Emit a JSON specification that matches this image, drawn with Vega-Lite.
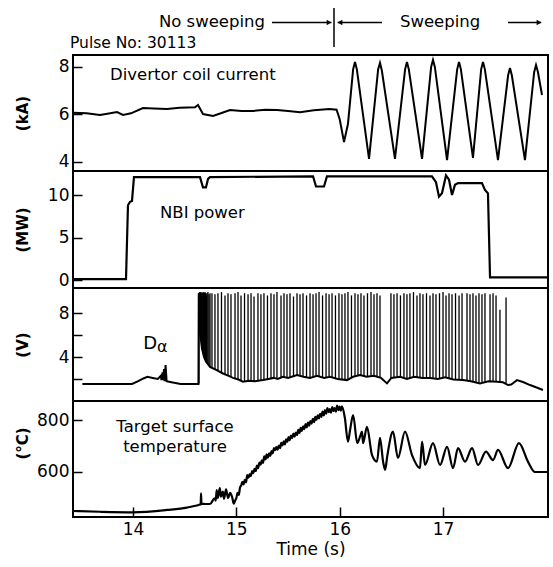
{
  "$schema": "https://vega.github.io/schema/vega-lite/v6.json",
  "background": "white",
  "padding": {"left": 13, "top": 6, "right": 5, "bottom": 5},
  "spacing": 0,
  "bounds": "flush",
  "config": {
    "font": "DejaVu Sans",
    "view": {"stroke": "black", "strokeWidth": 2},
    "axis": {
      "domain": false,
      "grid": false,
      "tickColor": "black",
      "tickWidth": 1.5,
      "labelColor": "black",
      "labelFont": "DejaVu Sans",
      "labelFontSize": 17,
      "labelOverlap": false,
      "format": "d",
      "titleColor": "black",
      "titleFont": "DejaVu Sans",
      "titleFontSize": 17,
      "titleFontWeight": "normal"
    },
    "line": {"color": "black", "strokeWidth": 2},
    "text": {"color": "black", "fontSize": 16.5}
  },
  "datasets": {
    "coil": [
      {"t": 13.419, "v": 6.07}, {"t": 13.55, "v": 6.05}, {"t": 13.68, "v": 5.98}, {"t": 13.78, "v": 6.05},
      {"t": 13.845, "v": 6.1}, {"t": 13.903, "v": 5.98}, {"t": 13.98, "v": 6.05}, {"t": 14.096, "v": 6.27},
      {"t": 14.2, "v": 6.25}, {"t": 14.329, "v": 6.23}, {"t": 14.45, "v": 6.28}, {"t": 14.6, "v": 6.3},
      {"t": 14.629, "v": 6.4}, {"t": 14.677, "v": 6.02}, {"t": 14.774, "v": 5.94}, {"t": 14.85, "v": 6.05},
      {"t": 14.938, "v": 6.19}, {"t": 15.05, "v": 6.15}, {"t": 15.161, "v": 6.15}, {"t": 15.28, "v": 6.2},
      {"t": 15.393, "v": 6.19}, {"t": 15.5, "v": 6.15}, {"t": 15.616, "v": 6.1}, {"t": 15.75, "v": 6.18},
      {"t": 15.9, "v": 6.23}, {"t": 15.97, "v": 6.2}, {"t": 16.0, "v": 5.8}, {"t": 16.042, "v": 4.84},
      {"t": 16.08, "v": 5.6}, {"t": 16.13, "v": 7.9}, {"t": 16.148, "v": 8.21}, {"t": 16.166, "v": 7.9},
      {"t": 16.284, "v": 4.13}, {"t": 16.372, "v": 7.9}, {"t": 16.39, "v": 8.17}, {"t": 16.408, "v": 7.85},
      {"t": 16.535, "v": 4.13}, {"t": 16.633, "v": 7.9}, {"t": 16.651, "v": 8.21}, {"t": 16.669, "v": 7.9},
      {"t": 16.797, "v": 4.13}, {"t": 16.885, "v": 8.0}, {"t": 16.903, "v": 8.3}, {"t": 16.921, "v": 8.0},
      {"t": 17.039, "v": 4.08}, {"t": 17.137, "v": 7.9}, {"t": 17.155, "v": 8.21}, {"t": 17.173, "v": 7.9},
      {"t": 17.29, "v": 4.17}, {"t": 17.369, "v": 7.9}, {"t": 17.387, "v": 8.21}, {"t": 17.405, "v": 7.9},
      {"t": 17.532, "v": 4.08}, {"t": 17.63, "v": 7.65}, {"t": 17.648, "v": 7.96}, {"t": 17.666, "v": 7.65},
      {"t": 17.793, "v": 4.08}, {"t": 17.882, "v": 7.78}, {"t": 17.9, "v": 8.08}, {"t": 17.918, "v": 7.8},
      {"t": 17.958, "v": 6.82}
    ],
    "nbi": [
      {"t": 13.419, "v": 0.1}, {"t": 13.932, "v": 0.1}, {"t": 13.951, "v": 8.8}, {"t": 13.971, "v": 9.2},
      {"t": 13.99, "v": 9.3}, {"t": 14.009, "v": 12.1}, {"t": 14.648, "v": 12.1}, {"t": 14.677, "v": 10.9},
      {"t": 14.706, "v": 10.9}, {"t": 14.726, "v": 11.9}, {"t": 14.745, "v": 12.1}, {"t": 15.742, "v": 12.2},
      {"t": 15.771, "v": 11.0}, {"t": 15.848, "v": 11.0}, {"t": 15.877, "v": 12.2}, {"t": 16.893, "v": 12.2},
      {"t": 16.932, "v": 11.5}, {"t": 16.961, "v": 9.8}, {"t": 16.99, "v": 10.2}, {"t": 17.029, "v": 12.3},
      {"t": 17.058, "v": 11.8}, {"t": 17.087, "v": 10.0}, {"t": 17.116, "v": 11.2}, {"t": 17.145, "v": 11.4},
      {"t": 17.377, "v": 11.4}, {"t": 17.406, "v": 10.6}, {"t": 17.435, "v": 10.2}, {"t": 17.455, "v": 0.3},
      {"t": 18.016, "v": 0.3}
    ],
    "dalpha": [
      {"t": 13.51, "v": 1.55}, {"t": 13.99, "v": 1.55}, {"t": 14.05, "v": 1.8}, {"t": 14.1, "v": 2.05},
      {"t": 14.14, "v": 2.2}, {"t": 14.19, "v": 2.1}, {"t": 14.24, "v": 2.0}, {"t": 14.27, "v": 2.3},
      {"t": 14.275, "v": 1.9}, {"t": 14.285, "v": 2.6}, {"t": 14.29, "v": 1.9}, {"t": 14.3, "v": 2.9},
      {"t": 14.305, "v": 1.8}, {"t": 14.315, "v": 3.27}, {"t": 14.325, "v": 1.8}, {"t": 14.36, "v": 1.73},
      {"t": 14.46, "v": 1.55}, {"t": 14.633, "v": 1.55}, {"t": 14.636, "v": 9.8}, {"t": 14.648, "v": 7.0},
      {"t": 14.658, "v": 5.5}, {"t": 14.667, "v": 4.8}, {"t": 14.687, "v": 4.0}, {"t": 14.706, "v": 3.6},
      {"t": 14.745, "v": 3.1}, {"t": 14.8, "v": 2.85}, {"t": 14.871, "v": 2.5}, {"t": 14.92, "v": 2.3},
      {"t": 14.967, "v": 2.1}, {"t": 15.02, "v": 1.95}, {"t": 15.064, "v": 1.76}, {"t": 15.12, "v": 1.85},
      {"t": 15.18, "v": 1.8}, {"t": 15.258, "v": 1.9}, {"t": 15.31, "v": 2.0}, {"t": 15.36, "v": 2.1},
      {"t": 15.4, "v": 2.0}, {"t": 15.451, "v": 2.2}, {"t": 15.5, "v": 2.1}, {"t": 15.587, "v": 2.36},
      {"t": 15.65, "v": 2.2}, {"t": 15.713, "v": 2.1}, {"t": 15.78, "v": 2.3}, {"t": 15.85, "v": 2.1},
      {"t": 15.906, "v": 2.2}, {"t": 15.98, "v": 2.0}, {"t": 16.071, "v": 1.9}, {"t": 16.13, "v": 2.2},
      {"t": 16.197, "v": 2.36}, {"t": 16.26, "v": 2.2}, {"t": 16.33, "v": 2.3}, {"t": 16.4, "v": 2.1},
      {"t": 16.458, "v": 1.6}, {"t": 16.5, "v": 2.1}, {"t": 16.584, "v": 2.2}, {"t": 16.65, "v": 2.0},
      {"t": 16.72, "v": 2.2}, {"t": 16.8, "v": 2.1}, {"t": 16.874, "v": 2.1}, {"t": 16.95, "v": 2.0},
      {"t": 17.02, "v": 2.15}, {"t": 17.1, "v": 1.95}, {"t": 17.193, "v": 1.9}, {"t": 17.27, "v": 1.8},
      {"t": 17.358, "v": 1.6}, {"t": 17.44, "v": 1.8}, {"t": 17.522, "v": 1.75}, {"t": 17.58, "v": 1.7},
      {"t": 17.629, "v": 1.45}, {"t": 17.66, "v": 1.5}, {"t": 17.716, "v": 1.9}, {"t": 17.78, "v": 1.7},
      {"t": 17.842, "v": 1.45}, {"t": 17.9, "v": 1.25}, {"t": 17.967, "v": 1.0}
    ],
    "spikes": [
      {"t": 14.638, "lo": 1.6, "hi": 9.8}, {"t": 14.643, "lo": 8.0, "hi": 9.9}, {"t": 14.648, "lo": 6.8, "hi": 9.8},
      {"t": 14.653, "lo": 6.0, "hi": 9.9}, {"t": 14.658, "lo": 5.5, "hi": 9.8}, {"t": 14.663, "lo": 5.1, "hi": 9.7},
      {"t": 14.667, "lo": 4.8, "hi": 9.9}, {"t": 14.672, "lo": 4.6, "hi": 9.8}, {"t": 14.677, "lo": 4.4, "hi": 9.8},
      {"t": 14.682, "lo": 4.2, "hi": 9.9}, {"t": 14.687, "lo": 4.0, "hi": 9.7}, {"t": 14.692, "lo": 3.9, "hi": 9.8},
      {"t": 14.696, "lo": 3.8, "hi": 9.9}, {"t": 14.701, "lo": 3.7, "hi": 9.8}, {"t": 14.706, "lo": 3.6, "hi": 9.8},
      {"t": 14.711, "lo": 3.5, "hi": 9.6}, {"t": 14.716, "lo": 3.4, "hi": 9.8}, {"t": 14.725, "lo": 3.3, "hi": 9.9},
      {"t": 14.735, "lo": 3.2, "hi": 9.7}, {"t": 14.745, "lo": 3.1, "hi": 9.8}, {"t": 14.764, "lo": 3.0, "hi": 9.8},
      {"t": 14.793, "lo": 2.9, "hi": 9.7}, {"t": 14.822, "lo": 2.75, "hi": 9.8}, {"t": 14.856, "lo": 2.6, "hi": 9.9},
      {"t": 14.89, "lo": 2.4, "hi": 9.6}, {"t": 14.919, "lo": 2.3, "hi": 9.8}, {"t": 14.948, "lo": 2.2, "hi": 9.7},
      {"t": 14.987, "lo": 2.05, "hi": 9.8}, {"t": 15.016, "lo": 1.95, "hi": 9.9}, {"t": 15.045, "lo": 1.85, "hi": 9.6},
      {"t": 15.079, "lo": 1.8, "hi": 9.8}, {"t": 15.113, "lo": 1.85, "hi": 9.7}, {"t": 15.142, "lo": 1.8, "hi": 9.8},
      {"t": 15.171, "lo": 1.8, "hi": 9.5}, {"t": 15.209, "lo": 1.85, "hi": 9.8}, {"t": 15.238, "lo": 1.9, "hi": 9.7},
      {"t": 15.267, "lo": 1.95, "hi": 9.8}, {"t": 15.301, "lo": 2.0, "hi": 9.6}, {"t": 15.335, "lo": 2.05, "hi": 9.8},
      {"t": 15.364, "lo": 2.1, "hi": 9.7}, {"t": 15.393, "lo": 2.05, "hi": 9.9}, {"t": 15.432, "lo": 2.15, "hi": 9.6},
      {"t": 15.461, "lo": 2.2, "hi": 9.8}, {"t": 15.49, "lo": 2.15, "hi": 9.7}, {"t": 15.519, "lo": 2.1, "hi": 9.8},
      {"t": 15.553, "lo": 2.25, "hi": 9.5}, {"t": 15.587, "lo": 2.35, "hi": 9.8}, {"t": 15.616, "lo": 2.3, "hi": 9.7},
      {"t": 15.645, "lo": 2.25, "hi": 9.8}, {"t": 15.679, "lo": 2.2, "hi": 9.6}, {"t": 15.713, "lo": 2.1, "hi": 9.8},
      {"t": 15.742, "lo": 2.2, "hi": 9.7}, {"t": 15.771, "lo": 2.3, "hi": 9.8}, {"t": 15.8, "lo": 2.25, "hi": 9.9},
      {"t": 15.834, "lo": 2.15, "hi": 9.6}, {"t": 15.868, "lo": 2.15, "hi": 9.8}, {"t": 15.897, "lo": 2.2, "hi": 9.7},
      {"t": 15.926, "lo": 2.15, "hi": 9.8}, {"t": 15.959, "lo": 2.05, "hi": 9.6}, {"t": 15.993, "lo": 2.0, "hi": 9.8},
      {"t": 16.022, "lo": 1.95, "hi": 9.7}, {"t": 16.051, "lo": 1.9, "hi": 9.8}, {"t": 16.08, "lo": 2.0, "hi": 9.9},
      {"t": 16.114, "lo": 2.15, "hi": 9.6}, {"t": 16.148, "lo": 2.2, "hi": 9.8}, {"t": 16.177, "lo": 2.3, "hi": 9.7},
      {"t": 16.206, "lo": 2.35, "hi": 9.8}, {"t": 16.235, "lo": 2.25, "hi": 9.6}, {"t": 16.269, "lo": 2.2, "hi": 9.8},
      {"t": 16.303, "lo": 2.3, "hi": 9.9}, {"t": 16.332, "lo": 2.25, "hi": 9.7}, {"t": 16.361, "lo": 2.15, "hi": 9.8},
      {"t": 16.39, "lo": 2.1, "hi": 9.6}, {"t": 16.496, "lo": 2.05, "hi": 9.8}, {"t": 16.525, "lo": 2.15, "hi": 9.7},
      {"t": 16.555, "lo": 2.2, "hi": 9.8}, {"t": 16.588, "lo": 2.2, "hi": 9.6}, {"t": 16.622, "lo": 2.1, "hi": 9.8},
      {"t": 16.651, "lo": 2.0, "hi": 9.7}, {"t": 16.68, "lo": 2.1, "hi": 9.8}, {"t": 16.714, "lo": 2.2, "hi": 9.9},
      {"t": 16.748, "lo": 2.15, "hi": 9.6}, {"t": 16.777, "lo": 2.1, "hi": 9.8}, {"t": 16.806, "lo": 2.1, "hi": 9.7},
      {"t": 16.84, "lo": 2.1, "hi": 9.8}, {"t": 16.874, "lo": 2.1, "hi": 9.6}, {"t": 16.903, "lo": 2.05, "hi": 9.8},
      {"t": 16.932, "lo": 2.0, "hi": 9.7}, {"t": 16.966, "lo": 2.05, "hi": 9.8}, {"t": 17.0, "lo": 2.1, "hi": 9.9},
      {"t": 17.029, "lo": 2.1, "hi": 9.6}, {"t": 17.058, "lo": 2.0, "hi": 9.8}, {"t": 17.087, "lo": 1.95, "hi": 9.7},
      {"t": 17.121, "lo": 1.95, "hi": 9.8}, {"t": 17.155, "lo": 1.9, "hi": 9.6}, {"t": 17.184, "lo": 1.9, "hi": 9.8},
      {"t": 17.232, "lo": 1.85, "hi": 9.8}, {"t": 17.261, "lo": 1.8, "hi": 9.7}, {"t": 17.29, "lo": 1.75, "hi": 9.8},
      {"t": 17.319, "lo": 1.7, "hi": 9.6}, {"t": 17.348, "lo": 1.65, "hi": 9.8}, {"t": 17.377, "lo": 1.65, "hi": 9.7},
      {"t": 17.406, "lo": 1.7, "hi": 9.8}, {"t": 17.455, "lo": 1.8, "hi": 9.7}, {"t": 17.484, "lo": 1.8, "hi": 9.8},
      {"t": 17.513, "lo": 1.75, "hi": 9.6}, {"t": 17.551, "lo": 1.7, "hi": 8.3}, {"t": 17.61, "lo": 1.6, "hi": 9.4}
    ],
    "temp": [
      {"t": 13.42, "v": 450}, {"t": 13.68, "v": 447}, {"t": 14.0, "v": 445}, {"t": 14.33, "v": 454},
      {"t": 14.52, "v": 463}, {"t": 14.64, "v": 474}, {"t": 14.655, "v": 476}, {"t": 14.658, "v": 518},
      {"t": 14.662, "v": 478}, {"t": 14.7, "v": 477}, {"t": 14.745, "v": 477}, {"t": 14.79, "v": 499},
      {"t": 14.8, "v": 490}, {"t": 14.81, "v": 530}, {"t": 14.82, "v": 500}, {"t": 14.84, "v": 538},
      {"t": 14.85, "v": 505}, {"t": 14.87, "v": 525}, {"t": 14.88, "v": 497}, {"t": 14.9, "v": 533},
      {"t": 14.92, "v": 500}, {"t": 14.94, "v": 520}, {"t": 14.96, "v": 502}, {"t": 14.975, "v": 478},
      {"t": 14.988, "v": 490}, {"t": 15.0, "v": 500},
      {"t": 15.012, "v": 520}, {"t": 15.024, "v": 512}, {"t": 15.035, "v": 540}, {"t": 15.047, "v": 548},
      {"t": 15.058, "v": 562}, {"t": 15.07, "v": 552}, {"t": 15.082, "v": 570}, {"t": 15.094, "v": 560},
      {"t": 15.105, "v": 588}, {"t": 15.117, "v": 578}, {"t": 15.129, "v": 592}, {"t": 15.141, "v": 584},
      {"t": 15.152, "v": 603}, {"t": 15.164, "v": 596}, {"t": 15.176, "v": 612}, {"t": 15.188, "v": 604},
      {"t": 15.199, "v": 625}, {"t": 15.211, "v": 615}, {"t": 15.223, "v": 636}, {"t": 15.235, "v": 628},
      {"t": 15.246, "v": 645}, {"t": 15.258, "v": 635}, {"t": 15.27, "v": 660}, {"t": 15.282, "v": 648},
      {"t": 15.293, "v": 668}, {"t": 15.305, "v": 655}, {"t": 15.317, "v": 672}, {"t": 15.329, "v": 662},
      {"t": 15.34, "v": 680}, {"t": 15.352, "v": 672}, {"t": 15.364, "v": 692}, {"t": 15.376, "v": 684},
      {"t": 15.387, "v": 696}, {"t": 15.399, "v": 686}, {"t": 15.411, "v": 702}, {"t": 15.423, "v": 692},
      {"t": 15.434, "v": 712}, {"t": 15.446, "v": 702}, {"t": 15.458, "v": 718}, {"t": 15.47, "v": 706},
      {"t": 15.481, "v": 726}, {"t": 15.493, "v": 716}, {"t": 15.505, "v": 734}, {"t": 15.517, "v": 722},
      {"t": 15.528, "v": 740}, {"t": 15.54, "v": 730}, {"t": 15.552, "v": 748}, {"t": 15.564, "v": 736},
      {"t": 15.575, "v": 752}, {"t": 15.587, "v": 742}, {"t": 15.599, "v": 762}, {"t": 15.611, "v": 750},
      {"t": 15.622, "v": 770}, {"t": 15.634, "v": 758}, {"t": 15.646, "v": 776}, {"t": 15.658, "v": 765},
      {"t": 15.669, "v": 784}, {"t": 15.681, "v": 772}, {"t": 15.693, "v": 790}, {"t": 15.705, "v": 778},
      {"t": 15.716, "v": 796}, {"t": 15.728, "v": 786}, {"t": 15.74, "v": 804}, {"t": 15.752, "v": 792},
      {"t": 15.763, "v": 812}, {"t": 15.775, "v": 800}, {"t": 15.787, "v": 818}, {"t": 15.799, "v": 806},
      {"t": 15.81, "v": 824}, {"t": 15.822, "v": 812}, {"t": 15.834, "v": 832}, {"t": 15.846, "v": 818},
      {"t": 15.857, "v": 838}, {"t": 15.869, "v": 824}, {"t": 15.881, "v": 846}, {"t": 15.893, "v": 830},
      {"t": 15.904, "v": 842}, {"t": 15.916, "v": 828}, {"t": 15.928, "v": 850}, {"t": 15.94, "v": 834},
      {"t": 15.951, "v": 846}, {"t": 15.963, "v": 832}, {"t": 15.975, "v": 855}, {"t": 15.987, "v": 838},
      {"t": 15.998, "v": 852}, {"t": 16.01, "v": 836}, {"t": 16.022, "v": 853},
      {"t": 16.05, "v": 808}, {"t": 16.08, "v": 717}, {"t": 16.1, "v": 760},
      {"t": 16.13, "v": 819}, {"t": 16.17, "v": 711}, {"t": 16.2, "v": 740}, {"t": 16.216, "v": 755},
      {"t": 16.226, "v": 711}, {"t": 16.264, "v": 774}, {"t": 16.313, "v": 665}, {"t": 16.361, "v": 640},
      {"t": 16.39, "v": 731}, {"t": 16.42, "v": 640}, {"t": 16.44, "v": 608}, {"t": 16.46, "v": 660},
      {"t": 16.516, "v": 755}, {"t": 16.564, "v": 654}, {"t": 16.632, "v": 755}, {"t": 16.7, "v": 665},
      {"t": 16.777, "v": 615}, {"t": 16.797, "v": 717}, {"t": 16.826, "v": 627}, {"t": 16.903, "v": 711},
      {"t": 16.971, "v": 627}, {"t": 17.039, "v": 697}, {"t": 17.097, "v": 615}, {"t": 17.145, "v": 692},
      {"t": 17.213, "v": 640}, {"t": 17.281, "v": 692}, {"t": 17.339, "v": 627}, {"t": 17.416, "v": 678},
      {"t": 17.484, "v": 646}, {"t": 17.532, "v": 685}, {"t": 17.629, "v": 615}, {"t": 17.735, "v": 711},
      {"t": 17.822, "v": 640}, {"t": 17.89, "v": 600}, {"t": 18.016, "v": 600}
    ]
  },
  "vconcat": [
    {
      "width": 475,
      "height": 116,
      "layer": [
        {
          "data": {"name": "coil"},
          "mark": {"type": "line", "strokeWidth": 2},
          "encoding": {
            "x": {"field": "t", "type": "quantitative", "scale": {"domain": [13.419, 18.016], "nice": false, "zero": false}, "axis": null},
            "y": {"field": "v", "type": "quantitative", "scale": {"domain": [3.621, 8.505], "nice": false, "zero": false},
              "axis": {"values": [4, 6, 8], "tickCount": 10, "format": "d", "tickSize": -9, "labelPadding": 13, "title": "(kA)", "titleX": -51, "titleY": 58, "titleAngle": -90, "titleBaseline": "middle", "titleAlign": "center", "titleFontWeight": "bold", "titleFontSize": 15}}
          }
        },
        {
          "data": {"values": [{"t": 13.777, "v": 7.66, "label": "Divertor coil current"}]},
          "mark": {"type": "text", "align": "left", "baseline": "middle"},
          "encoding": {"x": {"field": "t", "type": "quantitative"}, "y": {"field": "v", "type": "quantitative"}, "text": {"field": "label"}}
        },
        {
          "data": {"values": [{"t": 15.277, "v": 9.697, "label": "No sweeping"}]},
          "mark": {"type": "text", "align": "right", "baseline": "alphabetic", "fontSize": 16.5},
          "encoding": {"x": {"field": "t", "type": "quantitative"}, "y": {"field": "v", "type": "quantitative"}, "text": {"field": "label"}}
        },
        {
          "data": {"values": [{"t": 16.583, "v": 9.697, "label": "Sweeping"}]},
          "mark": {"type": "text", "align": "left", "baseline": "alphabetic", "fontSize": 16.5},
          "encoding": {"x": {"field": "t", "type": "quantitative"}, "y": {"field": "v", "type": "quantitative"}, "text": {"field": "label"}}
        },
        {
          "data": {"values": [{"t": 13.39, "v": 8.779, "label": "Pulse No: 30113"}]},
          "mark": {"type": "text", "align": "left", "baseline": "alphabetic", "fontSize": 15.5},
          "encoding": {"x": {"field": "t", "type": "quantitative"}, "y": {"field": "v", "type": "quantitative"}, "text": {"field": "label"}}
        },
        {
          "data": {"values": [
            {"t": 15.345, "t2": 15.92, "v": 9.873},
            {"t": 15.98, "t2": 16.409, "v": 9.873},
            {"t": 17.629, "t2": 17.95, "v": 9.873}
          ]},
          "mark": {"type": "rule", "color": "black", "strokeWidth": 1.5},
          "encoding": {"x": {"field": "t", "type": "quantitative"}, "x2": {"field": "t2"}, "y": {"field": "v", "type": "quantitative"}}
        },
        {
          "data": {"values": [{"t": 15.945, "v": 10.484, "v2": 8.842}]},
          "mark": {"type": "rule", "color": "black", "strokeWidth": 1.5},
          "encoding": {"x": {"field": "t", "type": "quantitative"}, "y": {"field": "v", "type": "quantitative"}, "y2": {"field": "v2"}}
        },
        {
          "data": {"values": [
            {"t": 15.897, "v": 9.873, "dir": "triangle-right"},
            {"t": 16.003, "v": 9.873, "dir": "triangle-left"},
            {"t": 17.929, "v": 9.873, "dir": "triangle-right"}
          ]},
          "mark": {"type": "point", "filled": true, "color": "black", "opacity": 1, "size": 30},
          "encoding": {"x": {"field": "t", "type": "quantitative"}, "y": {"field": "v", "type": "quantitative"},
            "shape": {"field": "dir", "type": "nominal", "scale": null}}
        }
      ]
    },
    {
      "width": 475,
      "height": 117,
      "layer": [
        {
          "data": {"name": "nbi"},
          "mark": {"type": "line", "strokeWidth": 2.2},
          "encoding": {
            "x": {"field": "t", "type": "quantitative", "scale": {"domain": [13.419, 18.016], "nice": false, "zero": false}, "axis": null},
            "y": {"field": "v", "type": "quantitative", "scale": {"domain": [-0.941, 12.824], "nice": false, "zero": false},
              "axis": {"values": [0, 5, 10], "tickCount": 10, "format": "d", "tickSize": -9, "labelPadding": 13, "title": "(MW)", "titleX": -51, "titleY": 58.5, "titleAngle": -90, "titleBaseline": "middle", "titleAlign": "center", "titleFontWeight": "bold", "titleFontSize": 15}}
          }
        },
        {
          "data": {"values": [{"t": 14.261, "v": 7.88, "label": "NBI power"}]},
          "mark": {"type": "text", "align": "left", "baseline": "middle"},
          "encoding": {"x": {"field": "t", "type": "quantitative"}, "y": {"field": "v", "type": "quantitative"}, "text": {"field": "label"}}
        }
      ]
    },
    {
      "width": 475,
      "height": 113,
      "layer": [
        {
          "data": {"name": "dalpha"},
          "mark": {"type": "line", "strokeWidth": 2},
          "encoding": {
            "x": {"field": "t", "type": "quantitative", "scale": {"domain": [13.419, 18.016], "nice": false, "zero": false}, "axis": null},
            "y": {"field": "v", "type": "quantitative", "scale": {"domain": [0, 10.273], "nice": false, "zero": false},
              "axis": {"values": [2, 4, 6, 8], "tickCount": 10, "format": "d", "labelExpr": "datum.value == 4 || datum.value == 8 ? datum.label : ''", "tickSize": -9, "labelPadding": 13, "title": "(V)", "titleX": -51, "titleY": 56.5, "titleAngle": -90, "titleBaseline": "middle", "titleAlign": "center", "titleFontWeight": "bold", "titleFontSize": 15}}
          }
        },
        {
          "data": {"name": "spikes"},
          "mark": {"type": "rule", "color": "black", "strokeWidth": 1.3},
          "encoding": {
            "x": {"field": "t", "type": "quantitative"},
            "y": {"field": "lo", "type": "quantitative"},
            "y2": {"field": "hi"}
          }
        },
        {
          "data": {"values": [{"t": 14.1, "v": 5.2, "label": "D"}]},
          "mark": {"type": "text", "align": "left", "baseline": "middle", "fontSize": 18},
          "encoding": {"x": {"field": "t", "type": "quantitative"}, "y": {"field": "v", "type": "quantitative"}, "text": {"field": "label"}}
        },
        {
          "data": {"values": [{"t": 14.232, "v": 4.95, "label": "α"}]},
          "mark": {"type": "text", "align": "left", "baseline": "middle", "fontSize": 16},
          "encoding": {"x": {"field": "t", "type": "quantitative"}, "y": {"field": "v", "type": "quantitative"}, "text": {"field": "label"}}
        }
      ]
    },
    {
      "width": 475,
      "height": 116,
      "layer": [
        {
          "data": {"name": "temp"},
          "mark": {"type": "line", "strokeWidth": 2.2, "interpolate": "monotone"},
          "encoding": {
            "x": {"field": "t", "type": "quantitative", "scale": {"domain": [13.419, 18.016], "nice": false, "zero": false},
              "axis": {"values": [14, 15, 16, 17], "tickCount": 10, "format": "d", "tickSize": -10, "labelPadding": 14, "title": "Time (s)", "titlePadding": 4}},
            "y": {"field": "v", "type": "quantitative", "scale": {"domain": [426.9, 873.1], "nice": false, "zero": false},
              "axis": {"values": [600, 800], "tickCount": 10, "format": "d", "tickSize": -9, "labelPadding": 13, "title": "(°C)", "titleX": -51, "titleY": 42, "titleAngle": -90, "titleBaseline": "middle", "titleAlign": "center", "titleFontWeight": "bold", "titleFontSize": 15}}
          }
        },
        {
          "data": {"values": [{"t": 14.406, "v": 773, "label": "Target surface\ntemperature"}]},
          "mark": {"type": "text", "align": "center", "baseline": "middle", "lineBreak": "\n", "lineHeight": 20},
          "encoding": {"x": {"field": "t", "type": "quantitative"}, "y": {"field": "v", "type": "quantitative"}, "text": {"field": "label"}}
        }
      ]
    }
  ]
}
